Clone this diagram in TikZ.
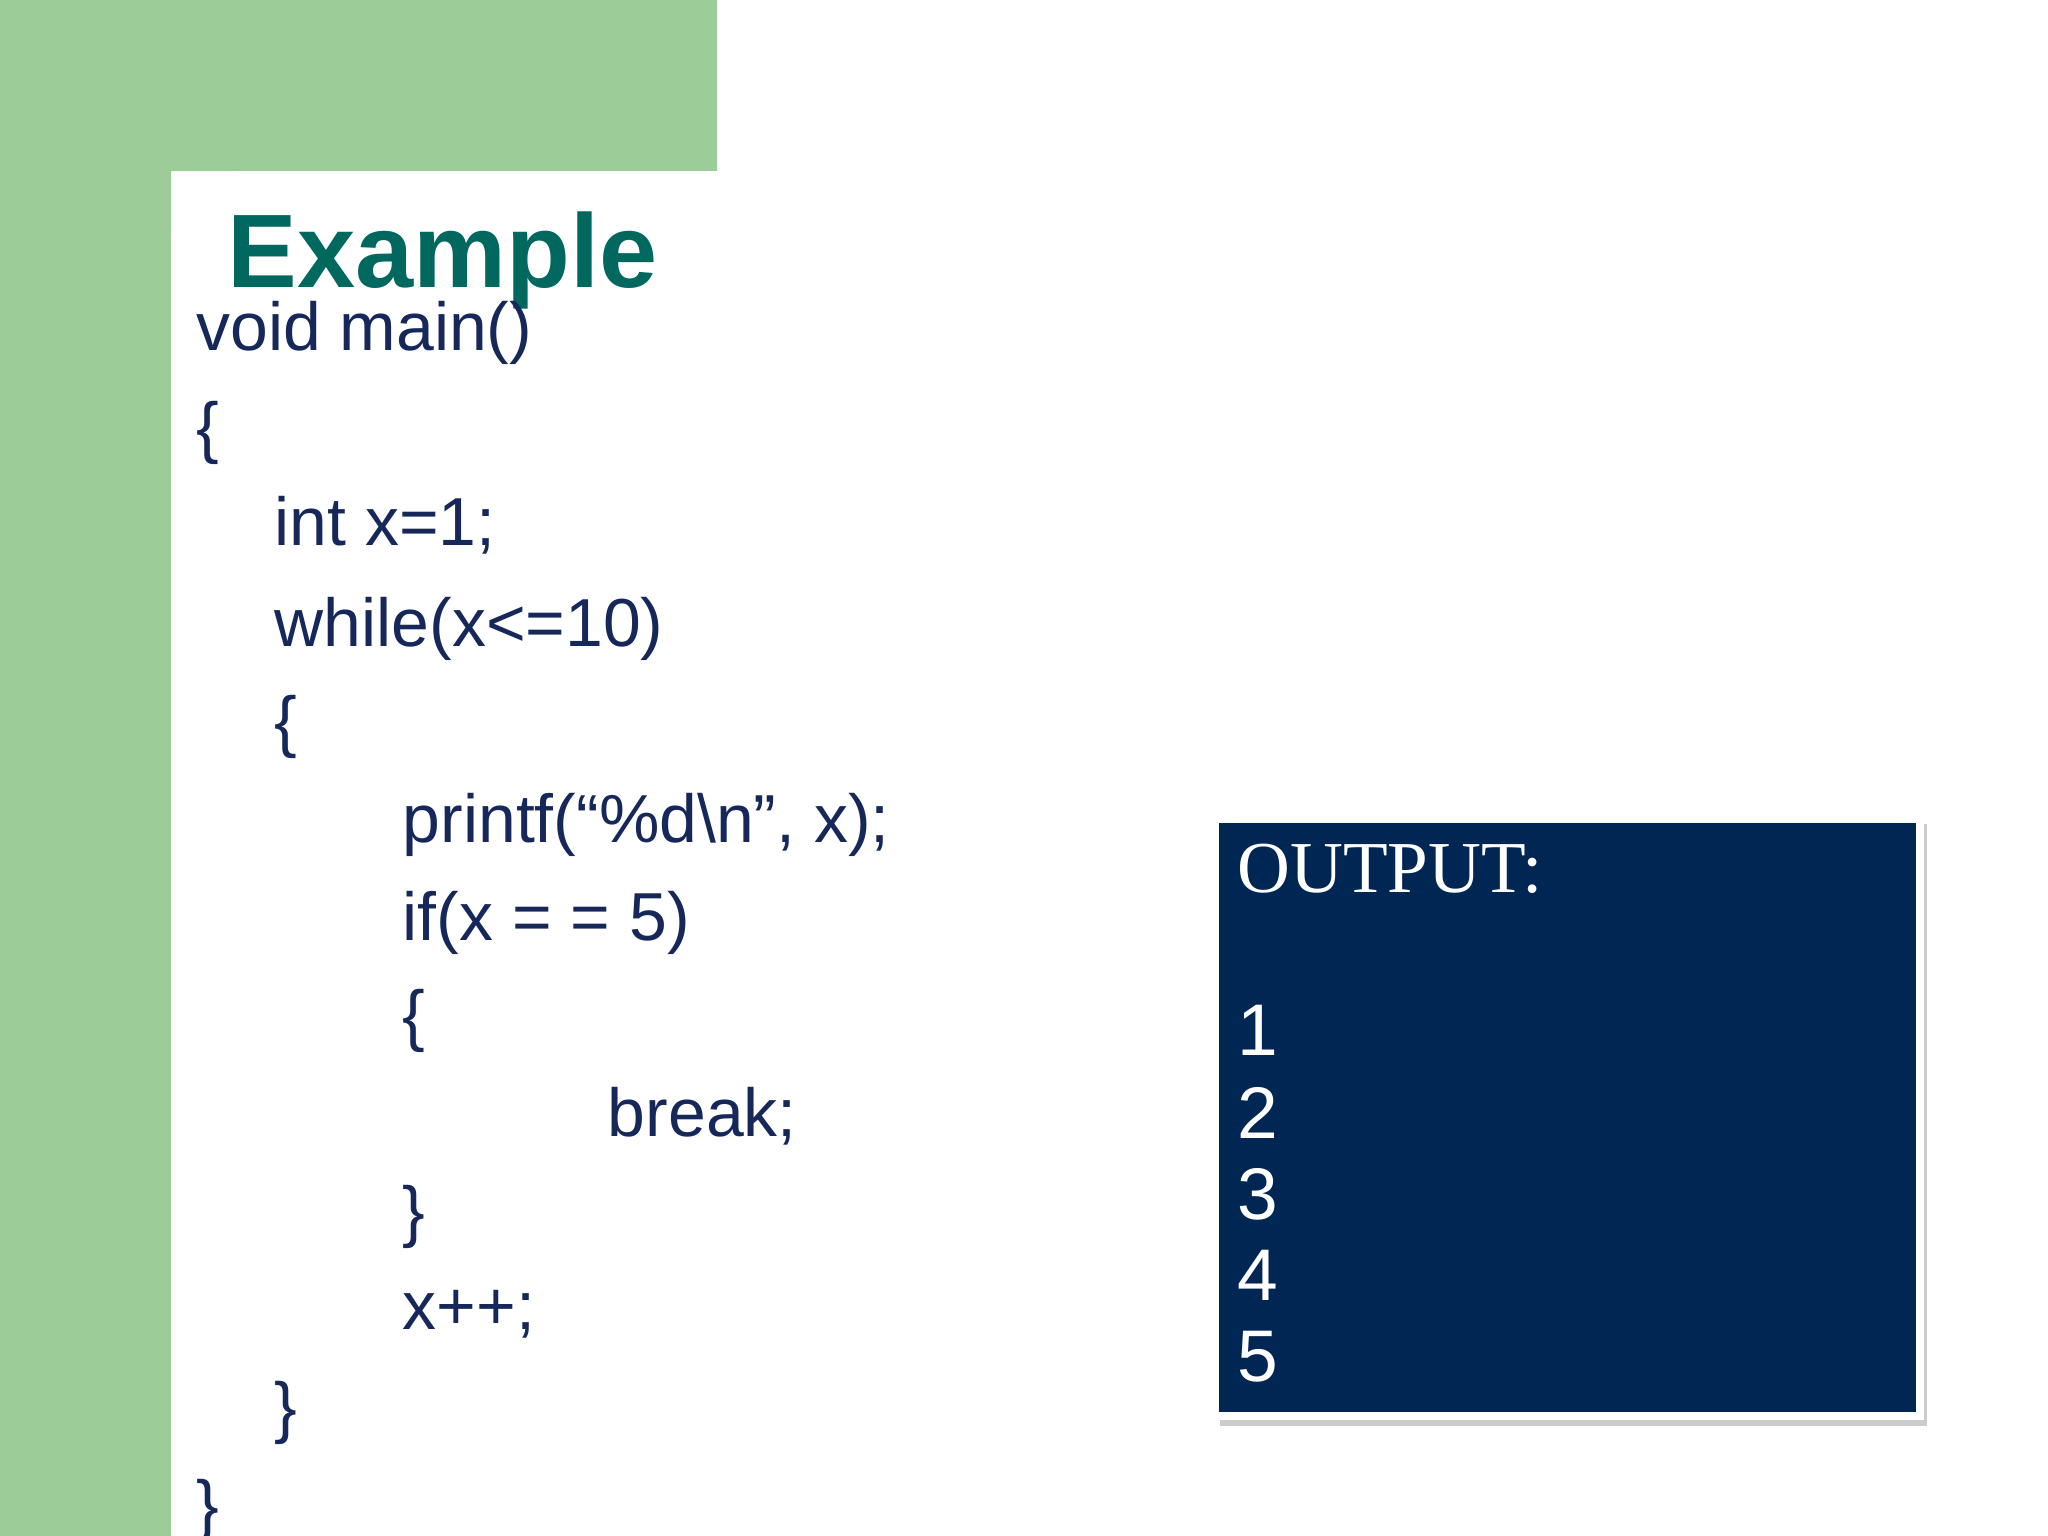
\documentclass[tikz,border=0pt]{standalone}
\usepackage{fontspec}
\setmainfont{Liberation Sans}
\newfontfamily\serifout{Liberation Serif}
\definecolor{bggreen}{RGB}{156,205,153}
\definecolor{teal}{RGB}{0,104,94}
\definecolor{codeblue}{RGB}{22,40,90}
\definecolor{navy}{RGB}{0,38,84}
\begin{document}
\begin{tikzpicture}[x=0.5pt,y=-0.5pt,
  code/.style={anchor=base west,inner sep=0pt,text=codeblue,font=\fontsize{26}{30}\selectfont},
  outtxt/.style={anchor=base west,inner sep=0pt,text=white}]
\useasboundingbox (0,0) rectangle (1568,1176);
\fill[white] (0,0) rectangle (1568,1176);
\fill[bggreen] (0,0) rectangle (549,131) (0,0) rectangle (131,1176);
\fill[white] (131,1176) -- (131,200) [rounded corners=27pt] -- (131,131) -- (300,131) [sharp corners] -- (549,131) -- (549,145) -- (1568,145) -- (1568,1176) -- cycle;
\node[anchor=base west,inner sep=0pt,text=teal,font=\fontsize{40}{44}\bfseries\selectfont] (title) at (174,220) {Example};
\node[code] (l1) at (150,268) {void main()};
\node[code] (l2) at (150,345) {\{};
\node[code] (l3) at (210,418) {int x=1;};
\node[code] (l4) at (210,495) {while(x<=10)};
\node[code] (l5) at (210,570) {\{};
\node[code] (l6) at (308,645) {printf(“\%d\textbackslash n”, x);};
\node[code] (l7) at (308,720) {if(x = = 5)};
\node[code] (l8) at (308,795) {\{};
\node[code] (l9) at (465,870) {break;};
\node[code] (l10) at (308,945) {\}};
\node[code] (l11) at (308,1018) {x++;};
\node[code] (l12) at (210,1095) {\}};
\node[code] (l13) at (150,1170) {\}};
\fill[black!20] (934,631) rectangle (1475,1092);
\draw[white,line width=3pt,fill=navy] (930,627) rectangle (1470,1084);
\node[outtxt,font=\serifout\fontsize{28}{32}\selectfont] (out) at (947,683) {OUTPUT:};
\foreach \n/\y in {1/808,2/872,3/934,4/996,5/1058}
  \node[outtxt,font=\fontsize{28}{32}\selectfont] (n\n) at (947,\y) {\n};
\end{tikzpicture}
\end{document}
